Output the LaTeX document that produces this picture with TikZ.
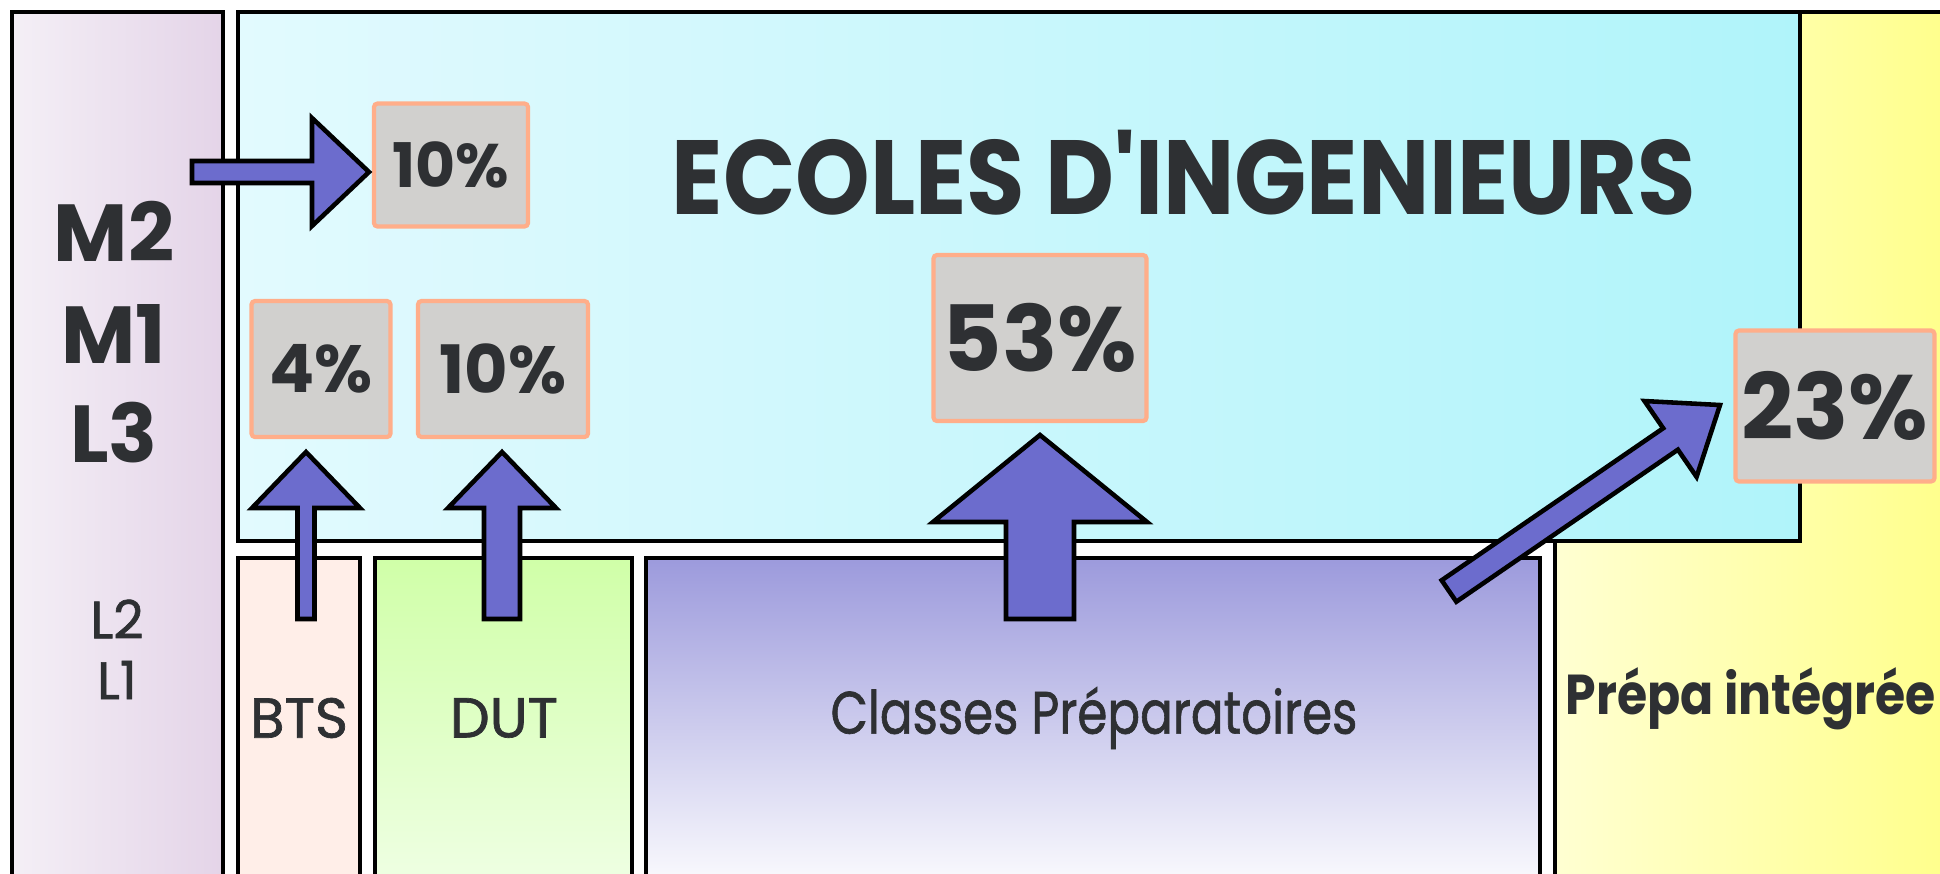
\documentclass[tikz,border=0pt]{standalone}
\usepackage{fontspec}
\setmainfont{Poppins}
\newfontfamily\medium{Poppins}[FakeBold=1.2]
\usetikzlibrary{calc}

\definecolor{inkgray}{HTML}{2E3033}
\definecolor{lilacL}{HTML}{F4EFF6}
\definecolor{lilacR}{HTML}{E4D4E8}
\definecolor{cyanL}{HTML}{E2FAFE}
\definecolor{cyanR}{HTML}{B0F4FA}
\definecolor{yellowL}{HTML}{FFFFD2}
\definecolor{yellowR}{HTML}{FFFF84}
\definecolor{btspeach}{HTML}{FFEEE8}
\definecolor{dutT}{HTML}{D0FFA8}
\definecolor{dutB}{HTML}{F0FFE6}
\definecolor{prepaT}{HTML}{9C9ADC}
\definecolor{pctgray}{HTML}{D1D0CE}
\definecolor{salmon}{HTML}{FFAE8A}
\definecolor{arrowblue}{HTML}{6C6CCD}

\newcommand{\fs}[1]{\fontsize{#1}{#1}\selectfont}

\tikzset{
  frame/.style={draw=black, line width=1.3pt},
  pct/.style={draw=salmon, fill=pctgray, line width=1.2pt, rounded corners=1pt,
    text=inkgray, inner sep=0pt},
  lbl/.style={text=inkgray, inner sep=0pt},
  barrow/.style={fill=arrowblue, draw=black, line width=1.3pt, line join=miter},
}

% tail, tip, half shaft, half head, head length
\newcommand{\blockarrow}[5]{%
  \coordinate (hb) at ($(#2)!#5!(#1)$);
  \draw[barrow] ($(#1)!#3!90:(#2)$) -- ($(hb)!#3!-90:(#1)$) -- ($(hb)!#4!-90:(#1)$)
    -- (#2) -- ($(hb)!#4!90:(#1)$) -- ($(hb)!#3!90:(#1)$) -- ($(#1)!#3!-90:(#2)$) -- cycle;
}

\begin{document}
\begin{tikzpicture}[x=0.1mm,y=-0.1mm]
\useasboundingbox (0,0) rectangle (1940,873);
\clip (0,0) rectangle (1940,873);

% columns and blocks
\draw[frame, left color=lilacL, right color=lilacR] (12,12) rectangle (223,900);
\draw[frame, left color=yellowL, right color=yellowR] (1555,12) rectangle (1990,900);
\draw[frame, left color=cyanL, right color=cyanR] (238,12) rectangle (1800,541);
\draw[frame, fill=btspeach] (238,558) rectangle (360,900);
\draw[frame, top color=dutT, bottom color=dutB] (375,558) rectangle (632,900);
\draw[frame, top color=prepaT, bottom color=white] (646,558) rectangle (1540,900);

% labels
\node[lbl, font=\fs{30}\bfseries] (ecoles) at (1184,173) {\scalebox{0.9}[1]{ECOLES D\textquotesingle INGENIEURS}};
\node[lbl, font=\fs{23}\bfseries] (m2) at (114,231) {M2};
\node[lbl, font=\fs{23}\bfseries] (m1) at (114,334) {M1};
\node[lbl, font=\fs{23}\bfseries] (l3) at (114,433) {L3};
\node[lbl, font=\fs{15}\medium] (l2) at (117,619) {L2};
\node[lbl, font=\fs{15}\medium] (l1) at (117,680) {L1};
\node[lbl, font=\fs{16}\medium] (bts) at (299,718) {BTS};
\node[lbl, font=\fs{16}\medium] (dut) at (504,718) {DUT};
\node[lbl, font=\fs{17}\medium] (cpge) at (1094,718) {\scalebox{0.81}[1]{Classes Préparatoires}};
\node[lbl, font=\fs{16}\bfseries] (integ) at (1751,699) {\scalebox{0.87}[1]{Prépa intégrée}};

% percentages
\node[pct, minimum width=15.4mm, minimum height=12.3mm, font=\fs{17.5}\bfseries] (p10a) at (451,165) {10\%};
\node[pct, minimum width=13.9mm, minimum height=13.6mm, font=\fs{19}\bfseries] (p4) at (321,369) {4\%};
\node[pct, minimum width=17mm, minimum height=13.6mm, font=\fs{19}\bfseries] (p10b) at (503,369) {10\%};
\node[pct, minimum width=21.3mm, minimum height=16.6mm, font=\fs{26}\bfseries] (p53) at (1040,338) {53\%};
\node[pct, minimum width=19.9mm, minimum height=15.1mm, font=\fs{26}\bfseries] (p23) at (1835,406) {23\%};

% arrows
\coordinate (mT) at (192,172);   \coordinate (mH) at (369,172);
\coordinate (btsT) at (306,619); \coordinate (btsH) at (306,452);
\coordinate (dutT) at (502,619); \coordinate (dutH) at (502,452);
\coordinate (cpT) at (1040,619); \coordinate (cpH) at (1040,435);
\coordinate (piT) at (1449,591); \coordinate (piH) at (1720,405);
\blockarrow{mT}{mH}{1.1mm}{5.4mm}{5.7mm}
\blockarrow{btsT}{btsH}{0.85mm}{5.4mm}{5.6mm}
\blockarrow{dutT}{dutH}{1.8mm}{5.4mm}{5.6mm}
\blockarrow{cpT}{cpH}{3.4mm}{10.7mm}{8.7mm}
\blockarrow{piT}{piH}{1.3mm}{4.6mm}{6mm}
\end{tikzpicture}
\end{document}
